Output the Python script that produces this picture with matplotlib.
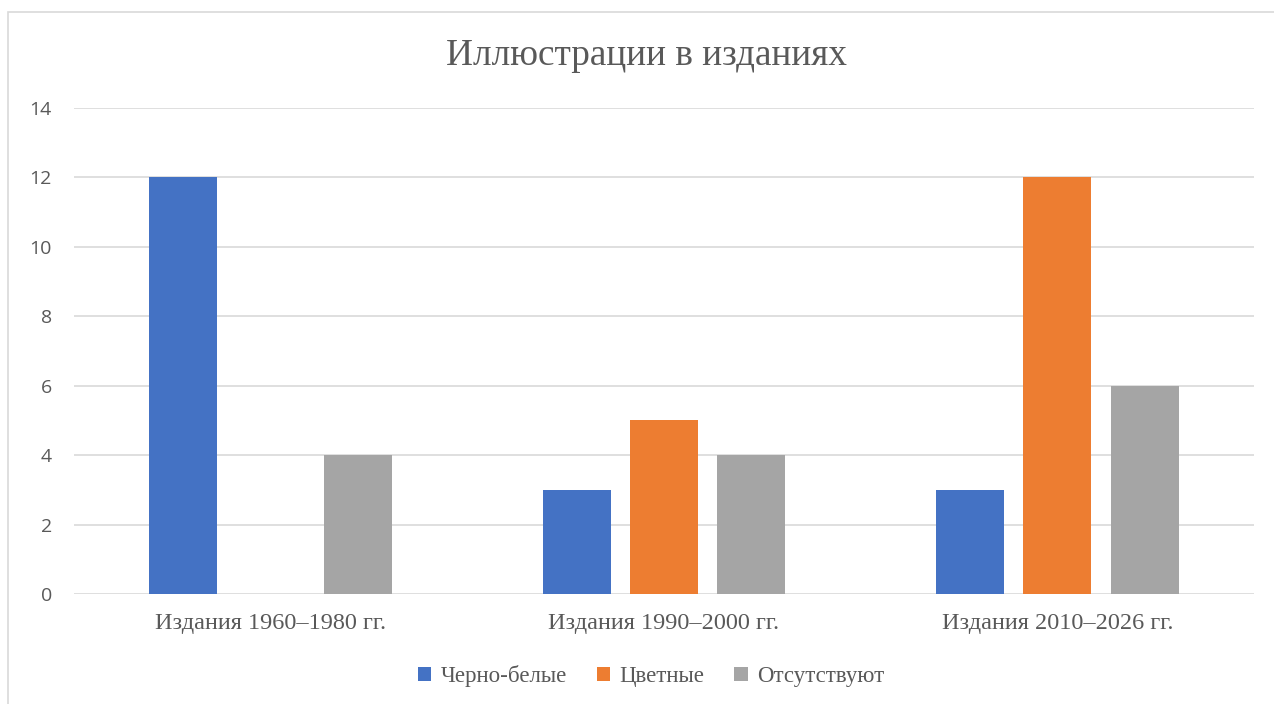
import matplotlib
matplotlib.use("Agg")
import matplotlib.pyplot as plt
from matplotlib.patches import Rectangle
import numpy as np

categories = ["Издания 1960–1980 гг.", "Издания 1990–2000 гг.", "Издания 2010–2026 гг."]
series_names = ["Черно-белые", "Цветные", "Отсутствуют"]
bw_values = [12, 3, 3]
color_values = [0, 5, 12]
none_values = [4, 4, 6]
yticks = [0, 2, 4, 6, 8, 10, 12, 14]
colors = ["#4472C4", "#ED7D31", "#A5A5A5"]

fig = plt.figure(figsize=(12.74, 7.04), dpi=100)
fig.patches.append(Rectangle((8/1274, -0.1), 1.2, (704-12)/704 + 0.1, transform=fig.transFigure,
                             fill=False, edgecolor="#d9d9d9", linewidth=1.2))
ax = fig.add_axes([74/1274, 1-594/704, (1254-74)/1274, (594-108)/704])

x = np.arange(len(categories))
width = 0.173
step = 0.222
for i, (vals, name) in enumerate(zip([bw_values, color_values, none_values], series_names)):
    ax.bar(x + (i-1)*step, vals, width=width, color=colors[i], label=name, zorder=3)

ax.set_xlim(-0.5, 2.5)
ax.set_ylim(0, 14)
ax.set_yticks(yticks)
ax.grid(axis="y", color="#d9d9d9", linewidth=1.2, zorder=0)
for s in ax.spines.values():
    s.set_visible(False)
ax.tick_params(axis="both", length=0)
ax.tick_params(axis="y", pad=16, labelsize=14, labelcolor="#595959")
for lab in ax.get_yticklabels():
    lab.set_fontfamily("Open Sans")
ax.set_xticks(x)
ax.set_xticklabels(categories, fontfamily="Liberation Serif", fontsize=17.5, color="#595959")
ax.tick_params(axis="x", pad=14)

fig.text(646/1274, 1-56/704, "Иллюстрации в изданиях", ha="center", va="center",
         fontfamily="Liberation Serif", fontsize=26.8, color="#595959")

leg = fig.legend(loc="center", bbox_to_anchor=(651/1274, 1-676/704), ncol=3, frameon=False,
                 prop={"family": "Liberation Serif", "size": 16.5}, handlelength=0.6, handleheight=0.6,
                 handletextpad=0.4, columnspacing=1.3)
for t in leg.get_texts():
    t.set_color("#595959")

fig.savefig("out.png", dpi=100, facecolor="white")
